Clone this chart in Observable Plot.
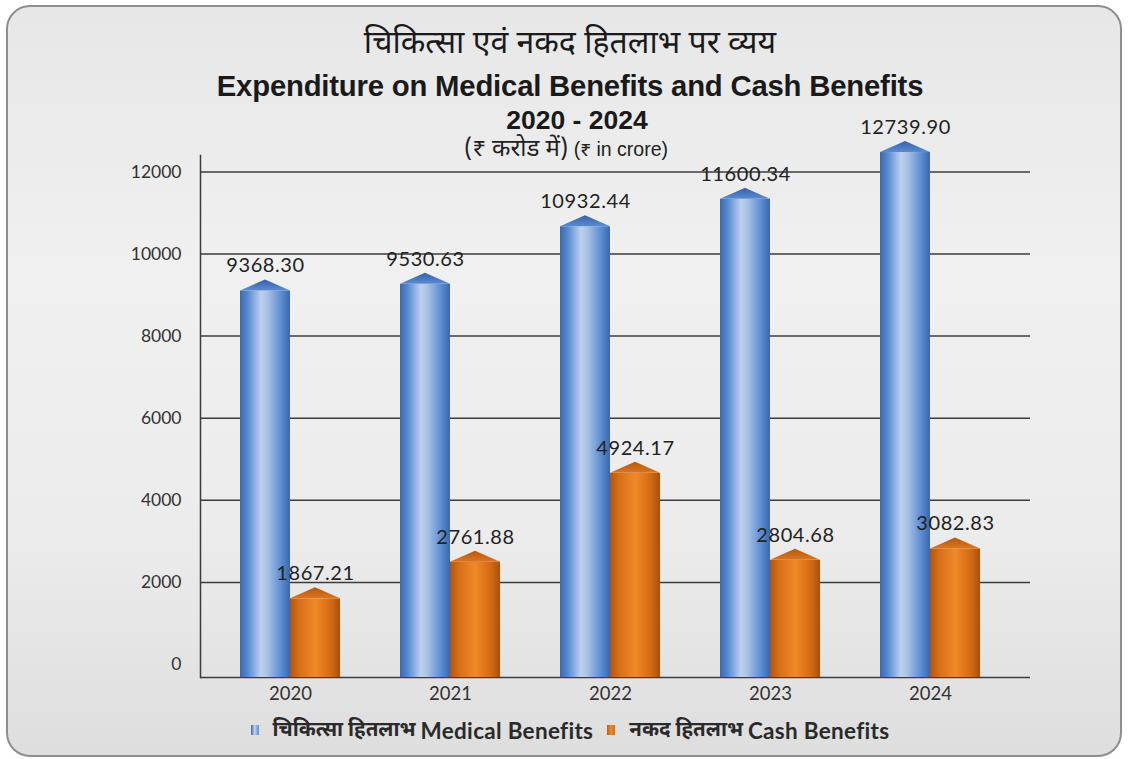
<!DOCTYPE html>
<html>
<head>
<meta charset="utf-8">
<script src="https://cdn.jsdelivr.net/npm/d3@7"></script>
<script src="https://cdn.jsdelivr.net/npm/@observablehq/plot@0.6"></script>
<style>
  html, body { margin: 0; padding: 0; background: #ffffff; }
  #page { position: relative; width: 1128px; height: 759px; overflow: hidden; }
  #card { position: absolute; left: 6px; top: 5px; width: 1116px; height: 752px; box-sizing: border-box;
          border: 2px solid #8e8e8e; border-radius: 24px;
          background: linear-gradient(180deg, #e7e7e7 0%, #f0f0f0 35%, #ececec 70%, #dedede 100%); }
  .t { position: absolute; left: 6px; width: 1128px; text-align: center; color: #1a1a1a; white-space: nowrap; }
  #t1 { top: 24px; font: 32px "Noto Sans Devanagari", "Noto Sans", sans-serif; }
  #t2 { top: 69px; font: bold 29.3px "Liberation Sans", Arial, sans-serif; letter-spacing: -0.2px; }
  #t3 { top: 105px; left: 13px; font: bold 26.5px "Liberation Sans", Arial, sans-serif; }
  #t4 { top: 134px; left: 2px; font: 19.5px "Liberation Sans", "Noto Sans Devanagari", "Noto Sans", sans-serif; color: #222; }
  #t4 .hi { font-size: 24px; font-family: "Noto Sans Devanagari", "Noto Sans", sans-serif; }
  #chart { position: absolute; left: 0; top: 130px; }
  #legend { position: absolute; top: 716px; left: 6px; width: 1128px; display: flex; justify-content: center; align-items: center;
            font: bold 20.5px Lato, "Noto Sans Devanagari", "Noto Sans", sans-serif; color: #2a2a2a; }
  #legend .en { font-size: 22.5px; letter-spacing: 0.3px; font-weight: bold; }
  .sw { display: inline-block; width: 8px; height: 10px; margin-right: 14px; }
  .item { display: flex; align-items: center; margin: 0 7px; white-space: pre; }
</style>
</head>
<body>
<div id="page">
  <div id="card"></div>
  <div class="t" id="t1"></div>
  <div class="t" id="t2"></div>
  <div class="t" id="t3"></div>
  <div class="t" id="t4"></div>
  <div id="chart"></div>
  <div id="legend"></div>
</div>
<script>
const titleHindi = "चिकित्सा एवं नकद हितलाभ पर व्यय";
const titleEnglish = "Expenditure on Medical Benefits and Cash Benefits";
const titleYears = "2020 - 2024";
const unitHindi = "(₹ करोड में)";
const unitEnglish = "(₹ in crore)";

const years = ["2020", "2021", "2022", "2023", "2024"];
const medical = [9368.30, 9530.63, 10932.44, 11600.34, 12739.90];
const cash = [1867.21, 2761.88, 4924.17, 2804.68, 3082.83];
const yTicks = [0, 2000, 4000, 6000, 8000, 10000, 12000];
const seriesHindi = ["चिकित्सा हितलाभ", "नकद हितलाभ"];
const seriesEnglish = ["Medical Benefits", "Cash Benefits"];

document.getElementById("t1").textContent = titleHindi;
document.getElementById("t2").textContent = titleEnglish;
document.getElementById("t3").textContent = titleYears;
{
  const t4 = document.getElementById("t4");
  const hi = document.createElement("span"); hi.className = "hi"; hi.textContent = unitHindi;
  t4.appendChild(hi);
  t4.appendChild(document.createTextNode(" " + unitEnglish));
}

const medRows = years.map((year, i) => ({year, value: medical[i]}));
const cashRows = years.map((year, i) => ({year, value: cash[i]}));

const SVGNS = "http://www.w3.org/2000/svg";
function grad(id, stops, vertical) {
  const g = document.createElementNS(SVGNS, "linearGradient");
  g.setAttribute("id", id);
  g.setAttribute("x1", "0"); g.setAttribute("y1", "0");
  g.setAttribute("x2", vertical ? "0" : "1"); g.setAttribute("y2", vertical ? "1" : "0");
  for (const [o, c] of stops) {
    const s = document.createElementNS(SVGNS, "stop");
    s.setAttribute("offset", o); s.setAttribute("stop-color", c);
    g.appendChild(s);
  }
  return g;
}
function defsMark() {
  const g = document.createElementNS(SVGNS, "g");
  const defs = document.createElementNS(SVGNS, "defs");
  defs.appendChild(grad("gBlue", [["0", "#3a68ae"], ["0.15", "#5688cf"], ["0.42", "#bcd2ef"], ["0.55", "#a7c1e7"], ["0.82", "#5c8dd2"], ["1", "#3a67ad"]]));
  defs.appendChild(grad("gOrange", [["0", "#b2560b"], ["0.18", "#d86f17"], ["0.5", "#ef8a2a"], ["0.8", "#d56c15"], ["1", "#a9500a"]]));
  defs.appendChild(grad("gBlueCap", [["0", "#3562aa"], ["1", "#5b8bd0"]], true));
  defs.appendChild(grad("gOrangeCap", [["0", "#b5590d"], ["1", "#dc7520"]], true));
  g.appendChild(defs);
  return g;
}

function cylinder(capId) {
  return function(index, scales, values, dimensions, context, next) {
    const g = next(index, scales, values, dimensions, context);
    const CAP = 11;
    g.querySelectorAll("rect").forEach(r => {
      const x = +r.getAttribute("x"), y = +r.getAttribute("y");
      const w = +r.getAttribute("width"), h = +r.getAttribute("height");
      r.setAttribute("y", y + CAP);
      r.setAttribute("height", Math.max(0, h - CAP));
      const p = document.createElementNS(SVGNS, "polygon");
      p.setAttribute("points", `${x},${y + CAP} ${x + w / 2},${y} ${x + w},${y + CAP}`);
      p.setAttribute("fill", `url(#${capId})`);
      g.appendChild(p);
    });
    return g;
  };
}

const lineColor = "#3c3c3c";
const plot = Plot.plot({
  width: 1128,
  height: 590,
  marginLeft: 200,
  marginRight: 98,
  marginTop: 25,
  marginBottom: 56,
  style: {background: "transparent", fontFamily: "Lato, sans-serif", color: "#333", overflow: "visible"},
  x: {domain: years, range: [210, 1010], paddingInner: 0.375, paddingOuter: 0.1875, label: null},
  y: {domain: [0, 12400], label: null},
  marks: [
    defsMark,
    Plot.ruleY(yTicks.filter(d => d > 0), {stroke: lineColor, strokeWidth: 1.5}),
    Plot.ruleY([0], {dy: 13, stroke: lineColor, strokeWidth: 1.5}),
    Plot.frame({anchor: "left", insetBottom: -13, stroke: lineColor, strokeWidth: 1.5}),
    Plot.axisY({ticks: yTicks, tickSize: 0, tickPadding: 19, fontSize: 17.5, label: null, tickFormat: d => String(d)}),
    Plot.axisX({tickSize: 0, tickPadding: 22, fontSize: 18.5, label: null}),
    Plot.barY(medRows, {x: "year", y: "value", fill: "url(#gBlue)", insetRight: 50, insetBottom: -13, render: cylinder("gBlueCap")}),
    Plot.barY(cashRows, {x: "year", y: "value", fill: "url(#gOrange)", insetLeft: 50, insetBottom: -13, render: cylinder("gOrangeCap")}),
    Plot.text(medRows, {x: "year", y: "value", text: d => d.value.toFixed(2), dx: -25, dy: -14, fontSize: 20, fill: "#222"}),
    Plot.text(cashRows, {x: "year", y: "value", text: d => d.value.toFixed(2), dx: 25, dy: -14, fontSize: 20, fill: "#222"})
  ]
});
plot.querySelectorAll("text").forEach(t => { if (/^\d+\.\d\d$/.test(t.textContent)) t.style.letterSpacing = "0.6px"; });
document.getElementById("chart").appendChild(plot);

const legend = document.getElementById("legend");
const swFills = ["linear-gradient(90deg,#3a68ae,#bcd2ef 45%,#5c8dd2)", "linear-gradient(90deg,#c25f0e,#ef8a2a 50%,#d56c15)"];
seriesHindi.forEach((name, i) => {
  const item = document.createElement("span");
  item.className = "item";
  const sw = document.createElement("span");
  sw.className = "sw";
  sw.style.background = swFills[i];
  const hi = document.createElement("span");
  hi.textContent = name + " ";
  const en = document.createElement("span");
  en.className = "en";
  en.textContent = seriesEnglish[i];
  item.appendChild(sw); item.appendChild(hi); item.appendChild(en);
  legend.appendChild(item);
});
</script>
</body>
</html>
